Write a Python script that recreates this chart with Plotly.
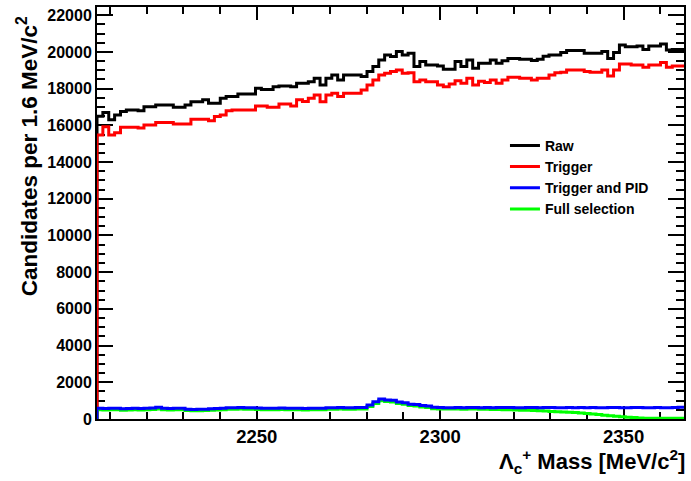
import numpy as np
import plotly.graph_objects as go

# Histogram binning: 100 bins of 1.6 MeV/c^2 around the Lambda_c mass
x_low = 2206.46
bin_width = 1.6
n_bins = 100

raw = [16500, 16700, 16300, 16570, 16750, 16840, 16840, 16800, 17020, 17020,
       17110, 17110, 17110, 16990, 16990, 17110, 17290, 17290, 17390, 17200,
       17200, 17480, 17570, 17570, 17710, 17710, 17710, 18020, 17960, 17960,
       18110, 18150, 18150, 18110, 18290, 18290, 18380, 18570, 18200, 18570,
       18750, 18470, 18750, 18750, 18750, 18660, 18940, 19210, 19560, 19840,
       19750, 20020, 19840, 19930, 19210, 19480, 19290, 19290, 19240, 19060,
       19060, 19480, 19210, 19560, 19110, 19390, 19380, 19560, 19380, 19520,
       19650, 19650, 19600, 19600, 19530, 19600, 19760, 19840, 19840, 19970,
       20080, 20080, 20080, 19930, 19930, 19930, 20020, 19650, 19970, 20380,
       20290, 20290, 20330, 20140, 20330, 20330, 20440, 20110, 20140, 20140]

trigger = [15480, 15930, 15480, 15600, 15900, 15900, 15900, 15850, 16020, 16020,
           16150, 16150, 16150, 16080, 16080, 16080, 16330, 16330, 16330, 16250,
           16480, 16570, 16800, 16840, 16840, 16840, 16840, 17060, 17060, 16990,
           16990, 17170, 17170, 17060, 17390, 17300, 17480, 17660, 17290, 17660,
           17750, 17570, 17750, 17750, 17750, 17930, 18200, 18470, 18750, 18840,
           18940, 19020, 18840, 18870, 18380, 18470, 18380, 18380, 18200, 18110,
           18250, 18430, 18290, 18570, 18200, 18400, 18330, 18470, 18290, 18470,
           18620, 18620, 18570, 18570, 18470, 18570, 18570, 18750, 18870, 18900,
           19020, 19020, 19020, 18940, 18900, 18900, 19020, 18690, 19020, 19350,
           19350, 19290, 19290, 19170, 19290, 19290, 19430, 19170, 19240, 19240]

trigger_pid = [580, 570, 590, 580, 560, 570, 580, 570, 590, 600,
               635, 590, 570, 580, 590, 530, 520, 525, 530, 560,
               570, 590, 615, 615, 620, 610, 615, 600, 590, 580,
               590, 600, 580, 590, 580, 575, 585, 580, 590, 615,
               615, 620, 610, 615, 620, 630, 760, 940, 1090, 1040,
               1020, 920, 880, 810, 790, 730, 710, 640, 620, 610,
               615, 625, 610, 620, 630, 615, 620, 610, 625, 630,
               620, 610, 615, 625, 620, 610, 620, 630, 615, 610,
               620, 615, 625, 610, 620, 615, 610, 625, 620, 615,
               610, 620, 625, 615, 610, 620, 615, 610, 620, 640]

full_sel = [500, 490, 510, 500, 480, 490, 500, 490, 510, 520,
            550, 510, 490, 500, 510, 460, 450, 455, 460, 480,
            490, 510, 530, 530, 540, 530, 530, 520, 510, 500,
            510, 520, 500, 510, 500, 495, 505, 500, 510, 530,
            530, 540, 530, 530, 540, 550, 680, 850, 990, 950,
            930, 840, 800, 730, 710, 650, 630, 560, 545, 540,
            540, 545, 535, 540, 545, 530, 530, 520, 520, 510,
            500, 490, 480, 470, 460, 450, 430, 410, 395, 385,
            370, 350, 330, 300, 270, 240, 210, 180, 150, 125,
            100, 75, 55, 45, 40, 40, 38, 36, 35, 35]

y_ticks = [0, 2000, 4000, 6000, 8000, 10000, 12000, 14000, 16000, 18000, 20000, 22000]
x_ticks = [2250, 2300, 2350]

edges = x_low + bin_width * np.arange(n_bins + 1)


def step_xy(vals):
    xs = [edges[0]] + list(edges[:-1]) + [edges[-1]]
    ys = [0] + list(vals) + [vals[-1]]
    return xs, ys


series = [
    ("Raw", raw, "#000000", 1),
    ("Trigger", trigger, "#ff0000", 2),
    ("Full selection", full_sel, "#00ff00", 4),
    ("Trigger and PID", trigger_pid, "#0000ff", 3),
]

fig = go.Figure()
for name, vals, col, rank in series:
    xs, ys = step_xy(vals)
    fig.add_trace(go.Scatter(x=xs, y=ys, mode="lines", name=name,
                             line=dict(color=col, width=3, shape="hv"),
                             legendrank=rank))

tickfont_y = dict(family="Liberation Sans", size=16, color="black", weight="bold")
tickfont_x = dict(family="Liberation Sans", size=18.5, color="black", weight="bold")

fig.update_layout(
    width=691, height=481,
    margin=dict(l=97, r=5, t=7, b=62),
    paper_bgcolor="white", plot_bgcolor="white",
    showlegend=True,
    legend=dict(x=0.695, y=0.702, xanchor="left", yanchor="top",
                bgcolor="rgba(0,0,0,0)", borderwidth=0,
                font=dict(family="Liberation Sans", size=14, color="black", weight="bold"),
                tracegroupgap=0, itemwidth=30),
    xaxis=dict(range=[x_low, x_low + bin_width * n_bins], tickvals=x_ticks,
               ticktext=[str(v) for v in x_ticks], layer="below traces",
               showgrid=False, zeroline=False, showline=True, linecolor="black",
               linewidth=2, mirror="allticks", ticks="inside", ticklen=13,
               tickwidth=2, tickcolor="black", tickfont=tickfont_x,
               minor=dict(dtick=10, tick0=2200, ticks="inside", ticklen=7,
                          tickwidth=1.5, tickcolor="black", showgrid=False)),
    yaxis=dict(range=[0, 22450], tickvals=y_ticks,
               ticktext=[str(v) for v in y_ticks], layer="below traces",
               showgrid=False, zeroline=False, showline=True, linecolor="black",
               linewidth=2, mirror="allticks", ticks="inside", ticklen=16,
               tickwidth=2, tickcolor="black", tickfont=tickfont_y,
               minor=dict(dtick=500, tick0=0, ticks="inside", ticklen=8,
                          tickwidth=1.5, tickcolor="black", showgrid=False)),
    annotations=[
        dict(text="Candidates per 1.6 MeV/c<sup>2</sup>", xref="paper", yref="paper",
             x=(27 - 97) / 589, y=(419 - 156) / 412, xanchor="center", yanchor="middle",
             textangle=-90, showarrow=False,
             font=dict(family="Liberation Sans", size=22.5, color="black", weight="bold")),
        dict(text="Λ<sub>c</sub><sup>+</sup> Mass [MeV/c<sup>2</sup>]", xref="paper", yref="paper",
             x=1.0 + 3 / 589, y=(419 - 461) / 412, xanchor="right", yanchor="middle",
             showarrow=False,
             font=dict(family="Liberation Sans", size=22, color="black", weight="bold")),
    ],
)

fig.write_html("out.html")
